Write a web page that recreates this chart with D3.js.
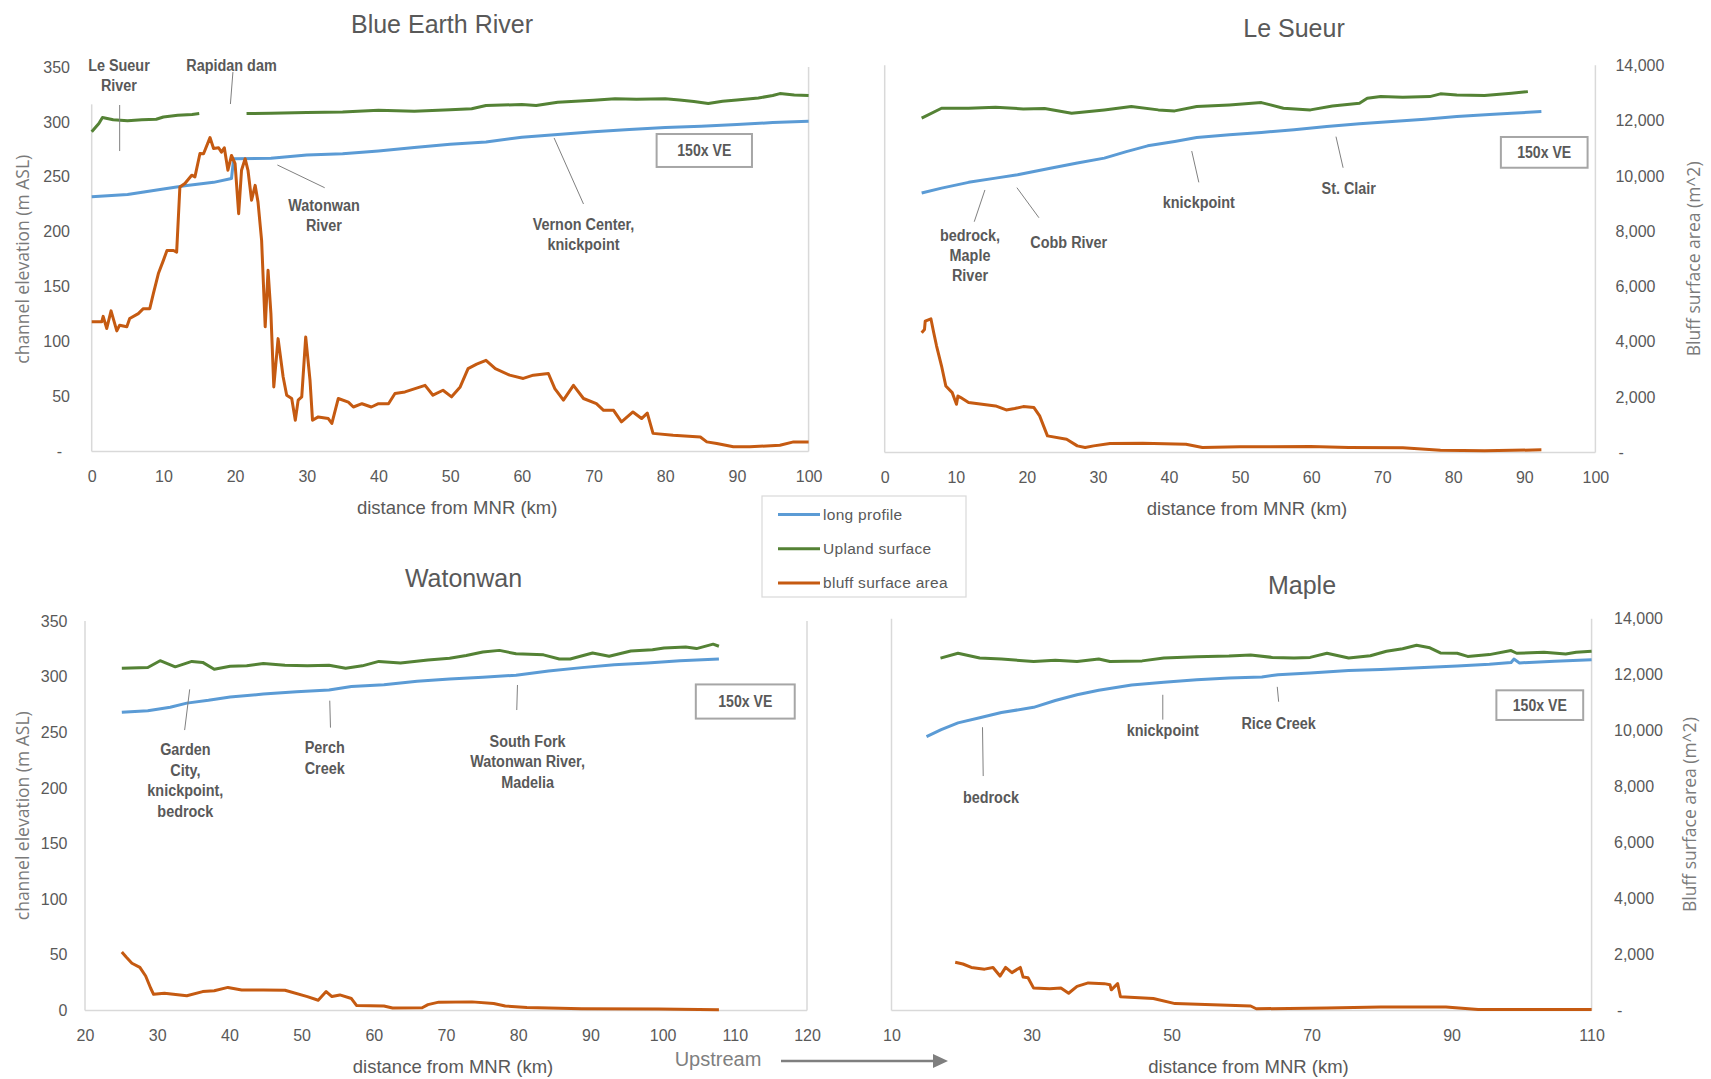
<!DOCTYPE html>
<html>
<head>
<meta charset="utf-8">
<script src="https://cdn.jsdelivr.net/npm/d3@7"></script>
<style>
  body { margin: 0; background: #fff; }
  svg { display: block; }
</style>
</head>
<body>
<svg id="chart" width="1711" height="1079"></svg>
<script>
// ---- data: [distance km, value] ----
// elevations in m ASL, bluff surface area in m^2

const blueEarthProfile = [[0,232],[5,234],[10,239],[13,242],[17,245],[19.5,248.5],[19.8,266.5],[25,267],[30,270],[35,271],[40,273.6],[45,276.7],[50,279.7],[55,281.8],[60,286],[65,288.5],[70,291],[75,293],[80,295],[85,296],[90,297.6],[95,299.4],[100,300.6]];
const blueEarthUpland = [[0,291],[1,298.5],[1.5,304],[3,302],[5,301],[7,302],[9,302.4],[10,304.5],[12,306],[14,306.7],[15,307.6],[18,null],[21.6,307.6],[25,308],[30,308.5],[35,309],[40,310.6],[45,309.7],[50,311],[53,312],[55,315],[60,315.8],[62,315],[65,318],[70,319.7],[73,321],[76,320.6],[80,321],[82,320],[84,318.5],[86,316.7],[88,318.8],[90,320],[93,321.8],[95,324],[96,325.8],[98,324.5],[100,324]];
const blueEarthBluff = [[0,4720],[1.4,4720],[1.6,4920],[2.1,4480],[2.7,5120],[3.5,4390],[3.9,4600],[4.9,4540],[5.3,4840],[6.5,5020],[7.2,5200],[8.1,5200],[8.6,5750],[9.3,6480],[10,6960],[10.5,7320],[11.4,7320],[11.85,7260],[12.3,9630],[13,9760],[13.95,10060],[14.4,10000],[15.1,10850],[15.6,10840],[16.5,11430],[17,11030],[17.7,11060],[18.1,10900],[18.5,11060],[19,10240],[19.5,10780],[20,10480],[20.5,8660],[20.9,10240],[21.4,10660],[21.8,10240],[22.3,9150],[22.8,9690],[23.2,9080],[23.7,7690],[24.2,4540],[24.6,6600],[25,5020],[25.4,2350],[26,4110],[26.7,2720],[27.2,2050],[27.9,1930],[28.4,1140],[28.8,1870],[29.3,1990],[29.85,4170],[30.45,2600],[30.8,1140],[31.6,1260],[33,1200],[33.5,1020],[34.4,1930],[35.8,1800],[36.5,1620],[37.7,1740],[39,1620],[40,1740],[41.4,1740],[42.3,2110],[43.7,2170],[45.1,2290],[46.5,2410],[47.6,2050],[49,2230],[50.2,1990],[51.4,2350],[52.5,3020],[53.7,3180],[55,3320],[56.3,3020],[58.3,2780],[60.2,2660],[61.6,2780],[63.7,2840],[64.6,2290],[65.8,1870],[67.2,2410],[68.6,1930],[70.4,1740],[71.4,1500],[72.8,1500],[73.9,1080],[75.5,1440],[76.7,1200],[77.5,1400],[78.3,660],[81.1,590],[84.9,530],[85.8,350],[87.2,290],[89.5,170],[91.8,170],[96,230],[97.9,350],[100,350]];

const leSueurProfile = [[5.2,234.5],[8,239],[11.8,244.2],[15.6,248],[18.7,251],[23.3,257],[27.1,261.6],[30.9,266.1],[34,272],[37,277.2],[40.8,281.2],[43.9,284.8],[48.5,287.2],[53,289.3],[57.6,291.7],[62.2,294.7],[66.8,297.1],[71.4,299.2],[76,301.3],[80.5,303.7],[85.1,305.5],[88.2,306.7],[92.4,308.2]];
const leSueurUpland = [[5.2,302.2],[8,311.2],[11.8,311.2],[15.6,312],[19.5,310.6],[22.5,311],[26.3,306.7],[30.9,309.7],[34.7,312.7],[38.5,309.7],[40.8,308.8],[43.9,312.7],[48.5,314.2],[53,316.3],[56.1,311.2],[59.9,309.7],[63,313.3],[66.8,315.7],[67.9,320.2],[69.8,321.7],[72.9,321.1],[76.7,321.7],[78.2,324.2],[80.5,323.2],[84.4,322.6],[88.2,324.7],[90.5,326.2]];
const leSueurBluff = [[5.2,4330],[5.6,4450],[5.7,4750],[6.5,4835],[6.9,4330],[7.3,3850],[8,3127],[8.6,2405],[9.5,2165],[10.1,1744],[10.3,2045],[10.7,1985],[11.8,1804],[15.6,1684],[17.1,1540],[18.3,1588],[19.5,1660],[21,1624],[21.8,1323],[22.9,601],[25.6,481],[27.1,240],[28.2,180],[29.4,240],[31.7,325],[36.3,337],[42.4,300],[44.7,180],[50,204],[59.9,216],[65.3,180],[72.9,168],[78.2,84],[84.4,60],[92.4,96]];

const watonwanProfile = [[25.1,267.9],[28.7,269.4],[31.8,272.5],[34.1,276.2],[37.1,278.7],[40.1,281.8],[44.7,284.3],[49.3,286.5],[53.8,288],[56.9,291.1],[61.4,292.7],[66,295.8],[70.5,297.9],[75.1,299.5],[79.7,301.3],[84.2,305],[88.8,308.1],[93.3,310.6],[97.9,312.2],[102.4,314.3],[107.8,315.9]];
const watonwanUpland = [[25.1,307.5],[28.7,308.2],[30.4,314.3],[32.5,308.8],[34.8,313.7],[36.3,312.8],[37.9,306.6],[40.1,309.4],[42.4,309.7],[44.7,311.9],[47.7,310.3],[50.8,309.7],[53.8,310.3],[56.1,307.5],[58.4,309.7],[60.7,313.7],[63.7,312.2],[67.5,315],[70.5,316.5],[72.8,319],[75.1,322.1],[77.4,323.6],[79.7,320.5],[83.5,319.6],[85.7,315.9],[87.2,315.9],[90.3,321.2],[92.6,318.4],[95.6,323],[98.6,324.2],[100.2,325.8],[103.2,326.7],[104.7,325.2],[107,329.2],[107.8,327.3]];
const watonwanBluff = [[25.1,2100],[25.7,1920],[26.5,1700],[27.6,1550],[28.4,1240],[29.1,800],[29.5,580],[31,620],[34.1,530],[36.3,680],[37.9,710],[39.8,830],[41.7,740],[44.7,740],[47.7,730],[50.8,500],[52.3,370],[53.4,680],[54.2,500],[55.3,560],[56.9,430],[57.6,180],[61.4,160],[62.6,90],[66.7,100],[67.5,210],[69,300],[73.6,310],[76.6,250],[78.2,160],[81.2,110],[88.8,60],[99.4,50],[107.8,25]];

const mapleProfile = [[15,244.7],[17.1,250.9],[19.5,257],[22.6,261.6],[25.7,266.2],[30.3,270.9],[33.4,277],[36.5,282.2],[39.6,286.2],[44.3,290.9],[48.9,293.3],[53.6,295.5],[58.2,297],[62.9,298],[65.2,300.1],[69.8,301.6],[75.3,303.8],[79.9,304.7],[85.3,306.3],[90.8,307.8],[95.4,309.3],[98.5,310.9],[98.9,314],[99.7,310.6],[104.7,312.1],[110,313.3]];
const mapleUpland = [[17,314.9],[19.5,319.2],[22.6,314.9],[25.7,314],[30.3,311.8],[33.4,313],[36.5,311.8],[39.6,314],[41.2,311.8],[45.8,312.4],[48.9,314.9],[53.6,316.1],[58.2,316.7],[61.3,317.6],[64.4,315.5],[67.5,314.9],[69.8,315.5],[72.2,319.2],[75.3,314.9],[78.4,317],[80.7,321],[83,323.2],[85,326.3],[86.9,324.1],[88.4,319.5],[90.8,319.2],[92.3,316.4],[95.4,318],[98.5,321.6],[99.3,319.2],[103.2,320.1],[106.3,318.6],[107.8,320.1],[110,321]];
const mapleBluff = [[19.1,1724],[20.2,1662],[21.4,1539],[23.3,1478],[24.5,1539],[25.5,1231],[26.3,1539],[27.2,1354],[28.4,1539],[28.8,1194],[29.5,1170],[30.3,800],[32.6,776],[34.2,800],[35.3,616],[36.5,862],[38.1,985],[40.4,960],[41.2,923],[41.4,739],[42.3,960],[42.7,492],[47.4,431],[50.5,246],[55.9,209],[61.3,160],[62.1,62],[72.2,86],[79.9,123],[89.2,123],[93.8,37],[110,37]];

// ---- axis ticks ----
const elevTicks = [0, 50, 100, 150, 200, 250, 300, 350];
const areaTicks = [0, 2000, 4000, 6000, 8000, 10000, 12000, 14000];
const blueEarthXTicks = [0, 10, 20, 30, 40, 50, 60, 70, 80, 90, 100];
const leSueurXTicks = [0, 10, 20, 30, 40, 50, 60, 70, 80, 90, 100];
const watonwanXTicks = [20, 30, 40, 50, 60, 70, 80, 90, 100, 110, 120];
const mapleXTicks = [10, 30, 50, 70, 90, 110];

const legendLabels = ["long profile", "Upland surface", "bluff surface area"];
const seriesColors = ["#5b9bd5", "#548235", "#c55a11"];

// ---- annotations, in data units (km, m) ----
const blueEarthNotes = [
  { text: ["Le Sueur", "River"], x: 3.8, y: 351.2, lead: [3.9, 315.4, 3.9, 273.5], mask: [-0.9, 8.6, 362, 316] },
  { text: ["Rapidan dam"], x: 19.5, y: 351.2, lead: [19.7, 345.4, 19.35, 316.3] },
  { text: ["Watonwan", "River"], x: 32.4, y: 223.5, lead: [25.9, 260.8, 32.5, 240.1] },
  { text: ["Vernon Center,", "knickpoint"], x: 68.6, y: 206.2, lead: [64.5, 285.4, 68.6, 225.3] }
];
const leSueurNotes = [
  { text: ["bedrock,", "Maple", "River"], x: 12.0, y: 196.6, lead: [14.1, 237.3, 12.6, 208.6] },
  { text: ["Cobb River"], x: 25.9, y: 189.6, lead: [18.6, 239.4, 21.7, 212.2] },
  { text: ["knickpoint"], x: 44.2, y: 226.4, lead: [43.2, 272.5, 44.2, 244.2] },
  { text: ["St. Clair"], x: 65.3, y: 238.2, lead: [63.5, 285.5, 64.5, 257.4] }
];
const watonwanNotes = [
  { text: ["Garden", "City,", "knickpoint,", "bedrock"], x: 33.9, y: 234.1, lead: [34.5, 288.6, 33.8, 252] },
  { text: ["Perch", "Creek"], x: 53.2, y: 235.9, lead: [53.9, 278.4, 54.0, 254.2] },
  { text: ["South Fork", "Watonwan River,", "Madelia"], x: 81.3, y: 241.8, lead: [79.9, 292.5, 79.8, 270] }
];
const mapleNotes = [
  { text: ["bedrock"], x: 24.2, y: 190.1, lead: [23.0, 253.1, 23.1, 209.5] },
  { text: ["knickpoint"], x: 48.75, y: 250, lead: [48.75, 282.1, 48.75, 259.9] },
  { text: ["Rice Creek"], x: 65.3, y: 256.2, lead: [65.1, 289.2, 65.3, 275.9] }
];

// ---- layout ----
const FONT = "'Liberation Sans', Arial, sans-serif";
const ROT = "'Open Sans', 'DejaVu Sans', sans-serif";
const TEXT = "#595959";
const FRAME = "#d9d9d9";

const panels = [
  { title: "Blue Earth River", titleX: 442, titleY: 24, left: 91.7, right: 808.6, top: 67, bottom: 451.5,
    xDomain: [0, 100], xTicks: blueEarthXTicks, axis: "left", zeroDash: true, pad: 21.7,
    yTitle: "channel elevation (m ASL)", yTitleX: 22,
    profile: blueEarthProfile, upland: blueEarthUpland, bluff: blueEarthBluff,
    notes: blueEarthNotes, lineGap: 20, box: [78.8, 92.1, 289, 259] },
  { title: "Le Sueur", titleX: 1294, titleY: 28, left: 884.7, right: 1595.4, top: 65.3, bottom: 452.5,
    xDomain: [0, 100], xTicks: leSueurXTicks, axis: "right", zeroDash: true, pad: 20,
    yTitle: "Bluff surface area (m^2)", yTitleX: 1693,
    profile: leSueurProfile, upland: leSueurUpland, bluff: leSueurBluff,
    notes: leSueurNotes, lineGap: 20, box: [86.7, 98.9, 285.2, 257.4] },
  { title: "Watonwan", titleX: 463.5, titleY: 578, left: 85, right: 807, top: 621, bottom: 1010.5,
    xDomain: [20, 120], xTicks: watonwanXTicks, axis: "left", zeroDash: false, pad: 17.5,
    yTitle: "channel elevation (m ASL)", yTitleX: 22,
    profile: watonwanProfile, upland: watonwanUpland, bluff: watonwanBluff,
    notes: watonwanNotes, lineGap: 20.4, box: [104.6, 118.3, 293, 262.3] },
  { title: "Maple", titleX: 1302, titleY: 585, left: 891.5, right: 1591.6, top: 618.8, bottom: 1010.5,
    xDomain: [10, 110], xTicks: mapleXTicks, axis: "right", zeroDash: true, pad: 22.4,
    yTitle: "Bluff surface area (m^2)", yTitleX: 1689,
    profile: mapleProfile, upland: mapleUpland, bluff: mapleBluff,
    notes: mapleNotes, lineGap: 20, box: [96.4, 108.8, 286.1, 259.6] }
];

const svg = d3.select("#chart");
svg.append("rect").attr("width", 1711).attr("height", 1079).attr("fill", "#fff");

// squeeze bold labels a little, the original uses a condensed face
function condense(sel, k) {
  sel.each(function () {
    const len = this.getComputedTextLength();
    d3.select(this).attr("textLength", len * k).attr("lengthAdjust", "spacingAndGlyphs");
  });
}

function drawPanel(p) {
  const x = d3.scaleLinear().domain(p.xDomain).range([p.left, p.right]);
  const y = d3.scaleLinear().domain([0, 350]).range([p.bottom, p.top]);
  const y2 = d3.scaleLinear().domain([0, 14000]).range([p.bottom, p.top]);
  const g = svg.append("g");

  // plot frame (left, right, bottom)
  [[p.left, p.top, p.left, p.bottom], [p.right, p.top, p.right, p.bottom], [p.left, p.bottom, p.right, p.bottom]]
    .forEach(l => g.append("line")
      .attr("x1", l[0]).attr("y1", l[1]).attr("x2", l[2]).attr("y2", l[3])
      .attr("stroke", FRAME).attr("stroke-width", 1.5));

  // title
  g.append("text")
    .attr("x", p.titleX).attr("y", p.titleY)
    .attr("text-anchor", "middle").attr("dominant-baseline", "central")
    .style("font-family", FONT).style("font-size", "25px").attr("fill", TEXT)
    .text(p.title);

  // x axis
  const xAxis = g.append("g")
    .attr("transform", `translate(0,${p.bottom})`)
    .call(d3.axisBottom(x).tickValues(p.xTicks).tickSize(0).tickPadding(19));
  xAxis.select(".domain").remove();
  xAxis.selectAll("text").style("font-family", FONT).style("font-size", "16px").attr("fill", TEXT);

  g.append("text")
    .attr("x", (p.left + p.right) / 2 + 7).attr("y", p.bottom + 55.5)
    .attr("text-anchor", "middle").attr("dominant-baseline", "central")
    .style("font-family", FONT).style("font-size", "18.5px").attr("fill", TEXT)
    .text("distance from MNR (km)");

  // y axis (left: elevation, right: bluff area)
  let yAxis;
  if (p.axis === "left") {
    yAxis = g.append("g").attr("transform", `translate(${p.left},0)`)
      .call(d3.axisLeft(y).tickValues(elevTicks).tickSize(0).tickPadding(p.pad));
  } else {
    yAxis = g.append("g").attr("transform", `translate(${p.right},0)`)
      .call(d3.axisRight(y2).tickValues(areaTicks).tickSize(0).tickPadding(p.pad).tickFormat(d3.format(",")));
  }
  yAxis.select(".domain").remove();
  yAxis.selectAll("text").style("font-family", FONT).style("font-size", "16px").attr("fill", TEXT);
  if (p.zeroDash) {
    yAxis.selectAll(".tick").filter(d => d === 0).select("text")
      .text("-").attr("dx", p.axis === "left" ? -8 : 3);
  }

  const midY = (p.top + p.bottom) / 2;
  g.append("text")
    .attr("transform", `translate(${p.yTitleX},${midY}) rotate(-90)`)
    .attr("text-anchor", "middle").attr("dominant-baseline", "central")
    .style("font-family", ROT).style("font-size", "17.5px").attr("fill", "#7a7a7a")
    .text(p.yTitle);

  // series
  const elevLine = d3.line().defined(d => d[1] !== null).x(d => x(d[0])).y(d => y(d[1]));
  const areaLine = d3.line().x(d => x(d[0])).y(d => y2(d[1]));
  [[p.profile, elevLine, seriesColors[0]], [p.upland, elevLine, seriesColors[1]], [p.bluff, areaLine, seriesColors[2]]]
    .forEach(s => g.append("path")
      .datum(s[0])
      .attr("d", s[1])
      .attr("fill", "none")
      .attr("stroke", s[2])
      .attr("stroke-width", 3)
      .attr("stroke-linejoin", "round"));

  // annotations
  p.notes.forEach(n => {
    if (n.mask) {
      g.append("rect")
        .attr("x", x(n.mask[0])).attr("y", y(n.mask[2]))
        .attr("width", x(n.mask[1]) - x(n.mask[0])).attr("height", y(n.mask[3]) - y(n.mask[2]))
        .attr("fill", "#fff");
    }
    g.append("line")
      .attr("x1", x(n.lead[0])).attr("y1", y(n.lead[1]))
      .attr("x2", x(n.lead[2])).attr("y2", y(n.lead[3]))
      .attr("stroke", "#808080").attr("stroke-width", 1);
    n.text.forEach((line, i) => g.append("text")
      .attr("x", x(n.x)).attr("y", y(n.y) + i * p.lineGap)
      .attr("text-anchor", "middle").attr("dominant-baseline", "central")
      .style("font-family", FONT).style("font-size", "16px").style("font-weight", "bold")
      .attr("fill", TEXT)
      .text(line)
      .call(condense, 0.9));
  });

  // "150x VE" box
  const b = p.box;
  g.append("rect")
    .attr("x", x(b[0])).attr("y", y(b[2]))
    .attr("width", x(b[1]) - x(b[0])).attr("height", y(b[3]) - y(b[2]))
    .attr("fill", "#fff").attr("stroke", "#a6a6a6").attr("stroke-width", 2);
  g.append("text")
    .attr("x", (x(b[0]) + x(b[1])) / 2).attr("y", (y(b[2]) + y(b[3])) / 2)
    .attr("text-anchor", "middle").attr("dominant-baseline", "central")
    .style("font-family", FONT).style("font-size", "16px").style("font-weight", "bold")
    .attr("fill", TEXT)
    .text("150x VE")
    .call(condense, 0.88);
}

panels.forEach(drawPanel);

// shared legend
const legend = svg.append("g");
legend.append("rect")
  .attr("x", 762).attr("y", 496).attr("width", 204).attr("height", 101)
  .attr("fill", "#fff").attr("stroke", FRAME).attr("stroke-width", 1.2);
legendLabels.forEach((label, i) => {
  const ly = 514.5 + i * 34.2;
  legend.append("line")
    .attr("x1", 778).attr("x2", 820).attr("y1", ly).attr("y2", ly)
    .attr("stroke", seriesColors[i]).attr("stroke-width", 3);
  legend.append("text")
    .attr("x", 823).attr("y", ly)
    .attr("dominant-baseline", "central")
    .style("font-family", FONT).style("font-size", "15.5px").style("letter-spacing", "0.3px")
    .attr("fill", TEXT)
    .text(label);
});

// "Upstream" arrow
svg.append("text")
  .attr("x", 718).attr("y", 1059)
  .attr("text-anchor", "middle").attr("dominant-baseline", "central")
  .style("font-family", FONT).style("font-size", "20px").attr("fill", "#7f7f7f")
  .text("Upstream");
svg.append("line")
  .attr("x1", 781).attr("x2", 935).attr("y1", 1061).attr("y2", 1061)
  .attr("stroke", "#7f7f7f").attr("stroke-width", 2.5);
svg.append("path")
  .attr("d", "M933,1054 L948,1061 L933,1068 Z")
  .attr("fill", "#7f7f7f");
</script>
</body>
</html>
